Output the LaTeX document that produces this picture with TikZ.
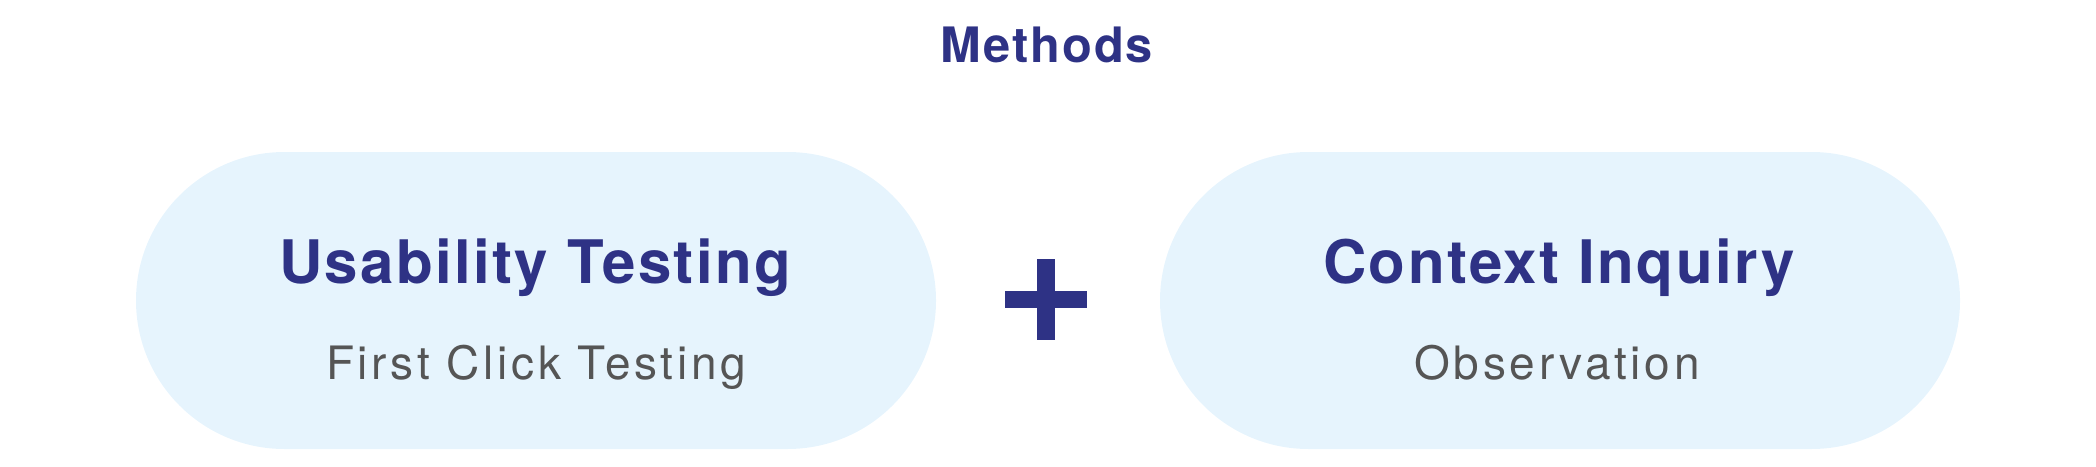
\documentclass[tikz,border=0pt]{standalone}
\usepackage{fontspec}
\setmainfont{TeX Gyre Heros}
\newfontfamily\headfont[LetterSpace=4]{TeX Gyre Heros}
\newfontfamily\subfont[LetterSpace=8]{TeX Gyre Heros}
\definecolor{navy}{HTML}{2E3285}
\definecolor{pillblue}{HTML}{E6F4FD}
\definecolor{subgray}{HTML}{555555}
\tikzset{
  pill/.style={fill=pillblue, draw=none, rectangle, rounded corners=74.25pt,
    minimum width=400pt, minimum height=148.5pt, inner sep=0pt},
  headtext/.style={anchor=base, inner sep=0pt, text=navy,
    font=\headfont\bfseries\fontsize{30}{36}\selectfont},
  subtext/.style={anchor=base, inner sep=0pt, text=subgray,
    font=\subfont\fontsize{23}{28}\selectfont},
  titletext/.style={anchor=base, inner sep=0pt, text=navy,
    font=\headfont\bfseries\fontsize{24.4}{29}\selectfont}
}
\begin{document}
\begin{tikzpicture}[x=0.5pt,y=-0.5pt]
\useasboundingbox (0,0) rectangle (2096,466);
\node[titletext] (title) at (1047,62) {Methods};
\node[pill] (left) at (536,300.5) {};
\node[pill] (right) at (1560,300.5) {};
\node[headtext] (lhead) at (535,283) {Usability Testing};
\node[subtext] (lsub) at (536,379) {First Click Testing};
\node[headtext] (rhead) at (1559,283) {Context Inquiry};
\node[subtext] (rsub) at (1557,379) {Observation};
\coordinate (plus) at (1046,299.5);
\fill[navy] ([xshift=-41*0.5pt,yshift=8.5*0.5pt]plus) rectangle ([xshift=41*0.5pt,yshift=-8.5*0.5pt]plus);
\fill[navy] ([xshift=-9*0.5pt,yshift=40.5*0.5pt]plus) rectangle ([xshift=9*0.5pt,yshift=-40.5*0.5pt]plus);
\end{tikzpicture}
\end{document}
